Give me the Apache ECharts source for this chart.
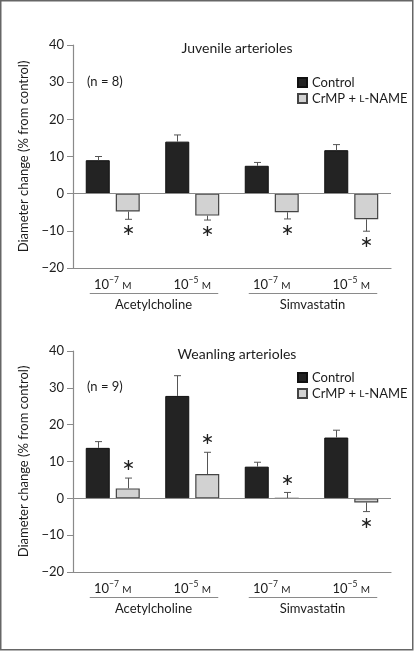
<!DOCTYPE html>
<html>
<head>
<meta charset="utf-8">
<script src="https://cdn.jsdelivr.net/npm/echarts@6/dist/echarts.min.js"></script>
<style>
html,body{margin:0;padding:0;background:#fff;}
#c{width:414px;height:651px;}
</style>
</head>
<body>
<div id="c"></div>
<script>
// ---- data ----
const catExponents = ['−7', '−5', '−7', '−5'];
const catUnit = 'M';
const groups = [
  { name: 'Acetylcholine', from: 0, to: 1 },
  { name: 'Simvastatin', from: 2, to: 3 }
];
const seriesNames = ['Control', 'CrMP + L-NAME'];
const yTicks = { min: -20, max: 40, interval: 10 };

const panelTitles = ['Juvenile arterioles', 'Weanling arterioles'];
const panelN = ['(n = 8)', '(n = 9)'];

const juvControl    = [9.0, 14.0, 7.5, 11.7];
const juvControlErr = [1.0, 1.8, 0.9, 1.5];
const juvCrmp       = [-4.8, -5.9, -5.0, -6.9];
const juvCrmpErr    = [2.1, 1.2, 1.8, 3.2];
const juvSig        = [1, 1, 1, 1];

const weanControl    = [13.7, 27.8, 8.6, 16.5];
const weanControlErr = [1.7, 5.5, 1.2, 2.0];
const weanCrmp       = [2.7, 6.6, 0, -1.1];
const weanCrmpErr    = [2.8, 5.9, 1.6, 2.5];
const weanSig        = [1, 1, 1, 1];

// ---- styling ----
const FONT = 'Lato';
const TXT = '#1c1c1c';
const AXC = '#8a8a8a';
const DARK = '#232323';
const LIGHT = '#d2d2d2';
const BAR_W = 24;
const BAR_GAP = 6;

const panels = [
  { ctrl: juvControl, ctrlErr: juvControlErr, crmp: juvCrmp, crmpErr: juvCrmpErr, sig: juvSig,
    grid: { left: 73, top: 45, width: 318, height: 223 }, legendTop: 71, nTop: 75, titleTop: 36 },
  { ctrl: weanControl, ctrlErr: weanControlErr, crmp: weanCrmp, crmpErr: weanCrmpErr, sig: weanSig,
    grid: { left: 73, top: 351, width: 318, height: 221 }, legendTop: 366, nTop: 380, titleTop: 342 }
];

const richLabel = {
  b:   { fontFamily: FONT, fontSize: 13, color: TXT, verticalAlign: 'bottom', lineHeight: 15 },
  sup: { fontFamily: FONT, fontSize: 8.5, color: TXT, verticalAlign: 'top', lineHeight: 9 },
  sc:  { fontFamily: FONT, fontSize: 10, color: TXT, verticalAlign: 'bottom', lineHeight: 15 }
};

const option = {
  animation: false,
  backgroundColor: '#fff',
  title: [], legend: [], grid: [], xAxis: [], yAxis: [], series: [],
  graphic: [
    { type: 'rect', silent: true, shape: { x: 0.75, y: 0.75, width: 412, height: 649 },
      style: { fill: 'none', stroke: '#666', lineWidth: 1.5 } }
  ]
};

panels.forEach((p, i) => {
  option.grid.push(p.grid);
  option.title.push({
    text: panelTitles[i], left: p.grid.left + p.grid.width / 2, top: p.titleTop, textAlign: 'center',
    textStyle: { fontFamily: FONT, fontSize: 14, fontWeight: 'normal', color: TXT }
  });
  option.graphic.push({
    type: 'text', left: 87, top: p.nTop,
    style: { text: panelN[i], font: '13px ' + FONT, fill: TXT }
  });
  option.legend.push({
    orient: 'vertical', left: 292, top: p.legendTop, itemWidth: 9, itemHeight: 9, itemGap: 3,
    selectedMode: false, icon: 'rect',
    data: seriesNames,
    formatter: n => n === 'CrMP + L-NAME' ? 'CrMP + {sc|L}-NAME' : n,
    textStyle: { fontFamily: FONT, fontSize: 13, color: TXT,
      rich: { sc: { fontFamily: FONT, fontSize: 10, color: TXT } } }
  });
  option.xAxis.push({
    type: 'category', gridIndex: i, data: catExponents.map((e, k) => 'c' + k),
    axisLine: { onZero: false, lineStyle: { color: AXC, width: 1.2 } },
    axisTick: { alignWithLabel: true, interval: 0, length: 4, lineStyle: { color: AXC } },
    axisLabel: {
      margin: 8, interval: 0, hideOverlap: false,
      formatter: (v, idx) => '{b|10}{sup|' + catExponents[idx] + '}{b| }{sc|' + catUnit + '}',
      rich: richLabel
    }
  });
  option.yAxis.push({
    type: 'value', gridIndex: i, min: yTicks.min, max: yTicks.max, interval: yTicks.interval,
    name: 'Diameter change (% from control)', nameLocation: 'middle', nameGap: 36,
    nameTextStyle: { fontFamily: FONT, fontSize: 13, color: TXT },
    axisLine: { show: true, lineStyle: { color: AXC, width: 1.2 } },
    axisTick: { show: true, length: 6, lineStyle: { color: AXC } },
    splitLine: { show: false },
    axisLabel: { margin: 9, fontFamily: FONT, fontSize: 13, color: TXT,
      formatter: v => (v < 0 ? '−' + Math.abs(v) : String(v)) }
  });
  option.series.push({
    type: 'bar', name: seriesNames[0], xAxisIndex: i, yAxisIndex: i,
    data: p.ctrl, barWidth: BAR_W, barGap: (BAR_GAP / BAR_W * 100) + '%',
    itemStyle: { color: DARK, borderColor: '#111', borderWidth: 1 },
    markLine: {
      silent: true, symbol: 'none', label: { show: false },
      lineStyle: { color: AXC, width: 1.2, type: 'solid' },
      data: [{ yAxis: 0 }]
    },
    z: 3
  });
  option.series.push({
    type: 'bar', name: seriesNames[1], xAxisIndex: i, yAxisIndex: i,
    data: p.crmp, barWidth: BAR_W,
    itemStyle: { color: LIGHT, borderColor: '#444', borderWidth: 1.2 },
    z: 3
  });
  // error bars + significance asterisks
  const errData = [];
  p.ctrl.forEach((v, k) => errData.push([k, v, p.ctrlErr[k], 0, 0]));
  p.crmp.forEach((v, k) => errData.push([k, v, p.crmpErr[k], 1, p.sig[k]]));
  option.series.push({
    type: 'custom', xAxisIndex: i, yAxisIndex: i, clip: false, silent: true, z: 4,
    encode: { x: 0, y: 1 },
    data: errData,
    renderItem: (params, api) => {
      const k = api.value(0), v = api.value(1), e = api.value(2), slot = api.value(3), sig = api.value(4);
      const dir = v >= 0 ? 1 : -1;
      const off = (BAR_W + BAR_GAP) / 2;
      const base = api.coord([k, v]);
      const tip = api.coord([k, v + dir * e]);
      const x = Math.round(base[0] + (slot === 0 ? -off : off)) + 0.5;
      const children = [
        { type: 'line', shape: { x1: x, y1: base[1], x2: x, y2: tip[1] },
          style: { stroke: '#555', lineWidth: 1 } },
        { type: 'line', shape: { x1: x - 3.5, y1: tip[1], x2: x + 3.5, y2: tip[1] },
          style: { stroke: '#555', lineWidth: 1 } }
      ];
      if (sig) {
        children.push({ type: 'text', style: {
          text: '∗', x: x, y: tip[1] - dir * 12, align: 'center', verticalAlign: 'middle',
          font: '16px "DejaVu Sans"', fill: '#222' } });
      }
      return { type: 'group', children };
    }
  });
  // group labels under the category axis
  option.series.push({
    type: 'custom', xAxisIndex: i, yAxisIndex: i, clip: false, silent: true,
    encode: { x: 0, y: 2 },
    data: groups.map(g => [g.from, g.to, yTicks.min, g.name]),
    renderItem: (params, api) => {
      const a = api.coord([api.value(0), yTicks.min]);
      const b = api.coord([api.value(1), yTicks.min]);
      const y = Math.round(a[1] + 25) + 0.5;
      return { type: 'group', children: [
        { type: 'line', shape: { x1: a[0] - 23, y1: y, x2: b[0] + 26, y2: y },
          style: { stroke: AXC, lineWidth: 1.2 } },
        { type: 'text', style: { text: groups[params.dataIndex].name, x: (a[0] + b[0]) / 2 + 1, y: y + 11,
          align: 'center', verticalAlign: 'middle', font: '13px ' + FONT, fill: TXT } }
      ] };
    }
  });
});

const chart = echarts.init(document.getElementById('c'), null, { renderer: 'canvas' });
chart.setOption(option);
</script>
</body>
</html>
